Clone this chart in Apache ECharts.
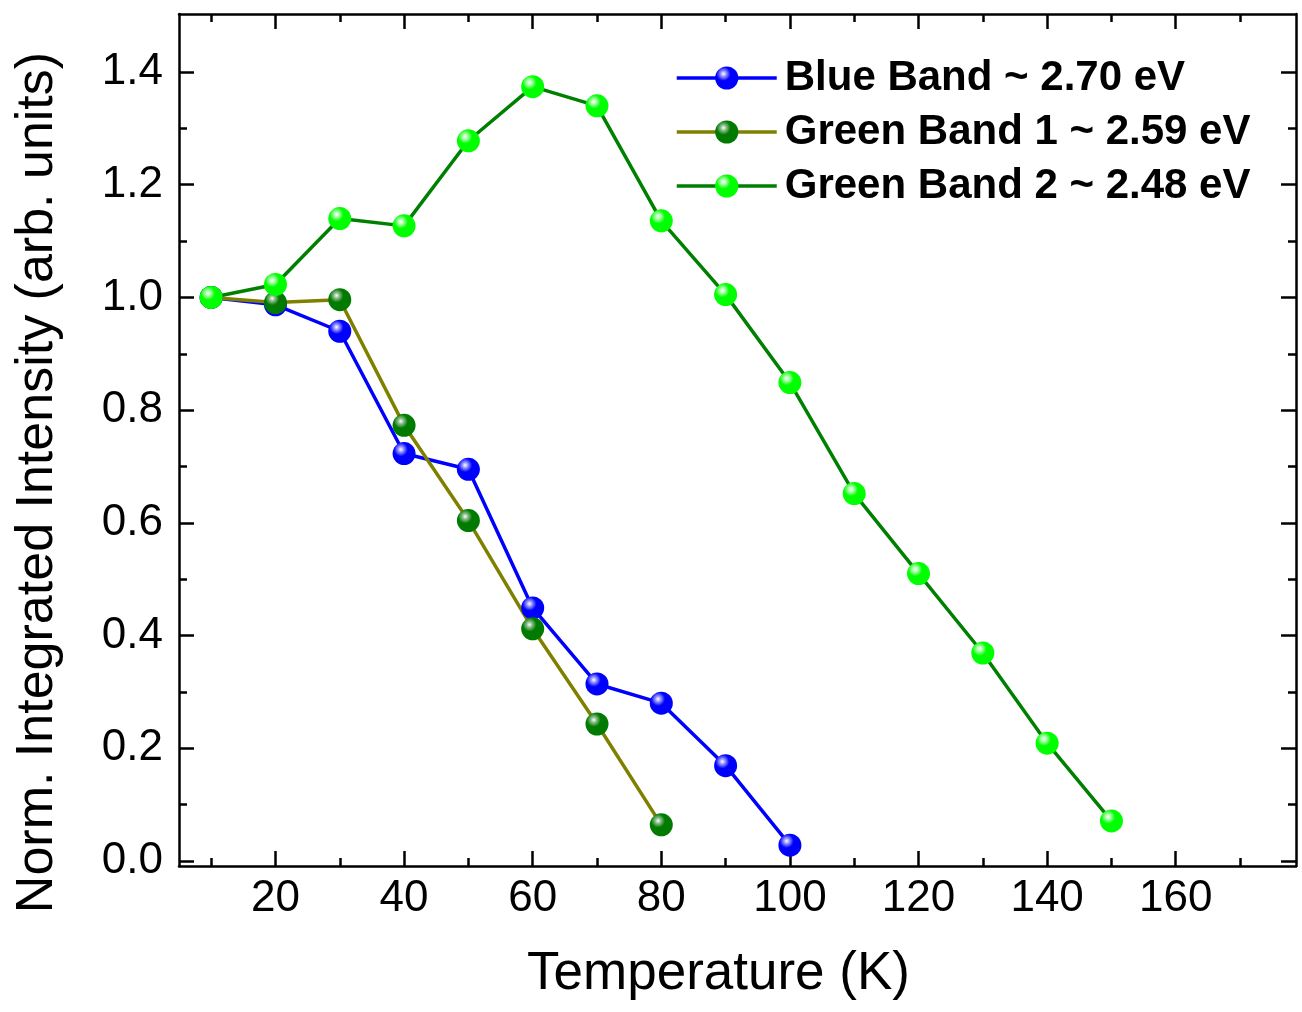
<!DOCTYPE html>
<html>
<head>
<meta charset="utf-8">
<script src="https://cdn.jsdelivr.net/npm/echarts@6/dist/echarts.min.js"></script>
<style>
html,body{margin:0;padding:0;background:#fff;}
#chart{width:1302px;height:1012px;}
</style>
</head>
<body>
<div id="chart"></div>
<script>
// ---- data ----
const temperatures = [10, 20, 30, 40, 50, 60, 70, 80, 90, 100, 110, 120, 130, 140, 150];
const blueBand = [1.0, 0.987, 0.940, 0.723, 0.695, 0.449, 0.314, 0.280, 0.169, 0.028];
const greenBand1 = [1.0, 0.991, 0.996, 0.773, 0.604, 0.412, 0.243, 0.064];
const greenBand2 = [1.0, 1.023, 1.140, 1.127, 1.278, 1.374, 1.340, 1.136, 1.005, 0.849, 0.652, 0.510, 0.369, 0.209, 0.071];
const seriesNames = ['Blue Band ~ 2.70 eV', 'Green Band 1 ~ 2.59 eV', 'Green Band 2 ~ 2.48 eV'];
const xMajorTicks = [20, 40, 60, 80, 100, 120, 140, 160];
const xMinorTicks = [10, 30, 50, 70, 90, 110, 130, 150, 170];
const yMajorTicks = [0, 0.2, 0.4, 0.6, 0.8, 1.0, 1.2, 1.4];
const yMinorTicks = [0.1, 0.3, 0.5, 0.7, 0.9, 1.1, 1.3];
const xTitle = 'Temperature (K)';
const yTitle = 'Norm. Integrated Intensity (arb. units)';

function pairs(vals) { return vals.map((v, i) => [temperatures[i], v]); }
function sphere(base, light) {
  return {
    type: 'radial', x: 0.36, y: 0.32, r: 0.72,
    colorStops: [
      { offset: 0, color: '#ffffff' },
      { offset: 0.16, color: light },
      { offset: 0.42, color: base },
      { offset: 1, color: base }
    ]
  };
}
const FONT = '"Liberation Sans", Arial, sans-serif';
const AX = { color: '#000', width: 2.5 };

function xAx(pos, ticks, len, showLabel, showLine, name) {
  return {
    type: 'value', min: 5, max: 178.7, position: pos, gridIndex: 0,
    axisLine: { show: showLine, onZero: false, lineStyle: AX },
    axisTick: { show: true, inside: true, length: len, customValues: ticks, lineStyle: AX },
    axisLabel: showLabel ? { show: true, customValues: ticks, fontSize: 44, color: '#000', fontFamily: FONT, margin: 11 } : { show: false },
    splitLine: { show: false },
    name: name || '', nameLocation: 'middle', nameGap: 82,
    nameTextStyle: { fontSize: 53, color: '#000', fontFamily: FONT, padding: [0, 38, 0, 0] }
  };
}
function yAx(pos, ticks, len, showLabel, showLine, name) {
  return {
    type: 'value', min: -0.009, max: 1.503, position: pos, gridIndex: 0,
    axisLine: { show: showLine, onZero: false, lineStyle: AX },
    axisTick: { show: true, inside: true, length: len, customValues: ticks, lineStyle: AX },
    axisLabel: showLabel ? { show: true, customValues: ticks, fontSize: 44, color: '#000', fontFamily: FONT, margin: 16,
      formatter: v => v.toFixed(1) } : { show: false },
    splitLine: { show: false },
    name: name || '', nameLocation: 'middle', nameGap: 115,
    nameTextStyle: { fontSize: 52, color: '#000', fontFamily: FONT, padding: [0, 85, 0, 0] }
  };
}

const chart = echarts.init(document.getElementById('chart'), null, { renderer: 'canvas' });
chart.setOption({
  backgroundColor: '#fff',
  animation: false,
  grid: { left: 179, right: 6, top: 14, bottom: 146, containLabel: false },
  xAxis: [
    xAx('bottom', xMajorTicks, 15, true, true, xTitle),
    xAx('bottom', xMinorTicks, 8, false, false),
    xAx('top', xMajorTicks, 15, false, true),
    xAx('top', xMinorTicks, 8, false, false)
  ],
  yAxis: [
    yAx('left', yMajorTicks, 15, true, true, yTitle),
    yAx('left', yMinorTicks, 8, false, false),
    yAx('right', yMajorTicks, 15, false, true),
    yAx('right', yMinorTicks, 8, false, false)
  ],
  legend: {
    left: 675, top: 57, orient: 'vertical', padding: 0,
    itemWidth: 100, itemHeight: 29, itemGap: 12,
    lineStyle: { width: 3.5 },
    textStyle: { fontSize: 42, fontWeight: 'bold', color: '#000', fontFamily: FONT, lineHeight: 42, padding: [0, 0, 0, 3] },
    data: seriesNames
  },
  series: [
    {
      name: seriesNames[0], type: 'line', data: pairs(blueBand), xAxisIndex: 0, yAxisIndex: 0,
      symbol: 'circle', symbolSize: 23,
      lineStyle: { color: '#0000ff', width: 3.5 },
      itemStyle: { color: sphere('#0000ff', '#9a9aff') }
    },
    {
      name: seriesNames[1], type: 'line', data: pairs(greenBand1), xAxisIndex: 0, yAxisIndex: 0,
      symbol: 'circle', symbolSize: 23,
      lineStyle: { color: '#808000', width: 3.5 },
      itemStyle: { color: sphere('#007a00', '#8fc08f') }
    },
    {
      name: seriesNames[2], type: 'line', data: pairs(greenBand2), xAxisIndex: 0, yAxisIndex: 0,
      symbol: 'circle', symbolSize: 23,
      lineStyle: { color: '#008000', width: 3.5 },
      itemStyle: { color: sphere('#00ff00', '#aaffaa') }
    }
  ]
});
</script>
</body>
</html>
